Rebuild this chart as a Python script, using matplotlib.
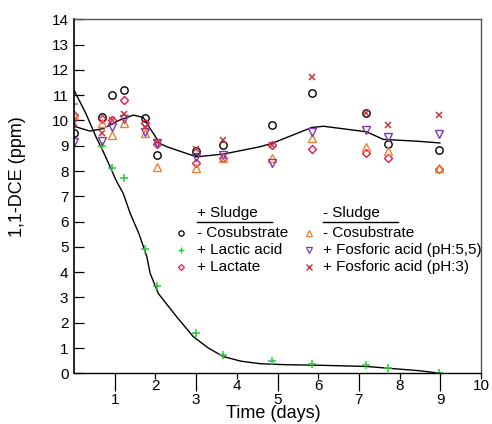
import matplotlib
matplotlib.use("Agg")
import matplotlib.pyplot as plt
from matplotlib.lines import Line2D

plt.rcParams['font.family'] = ['Liberation Sans', 'DejaVu Sans']

# sampling times (days)
t = [0, 0.7, 0.93, 1.24, 1.75, 2.03, 3.0, 3.67, 4.86, 5.84, 7.17, 7.72, 8.97]

# + Sludge
cosub_neg = [9.49, 10.14, 11.0, 11.22, 10.08, 8.63, 8.80, 9.02, 9.81, 11.09, 10.28, 9.06, 8.83]
lactic_acid = [10.64, 9.0, 8.13, 7.73, 4.91, 3.45, 1.58, 0.72, 0.49, 0.37, 0.32, 0.2, 0.02]
lactate = [10.21, 10.04, 10.0, 10.8, 9.9, 9.06, 8.3, 8.5, 9.02, 8.89, 8.72, 8.5, 8.06]

# - Sludge
nosludge_cosub_neg = [10.21, 9.91, 9.42, 9.91, 9.5, 8.14, 8.1, 8.5, 8.5, 9.29, 8.96, 8.8, 8.1]
fosforic_55 = [9.15, 9.18, 9.75, 10.04, 9.55, 9.12, 8.56, 8.63, 8.3, 9.55, 9.64, 9.33, 9.45]
fosforic_3 = [9.88, 9.49, 10.01, 10.24, 9.75, 9.15, 8.88, 9.22, 9.04, 11.7, 10.3, 9.81, 10.21]

# fitted curves
decay_x = [0, 0.29, 0.54, 0.70, 0.87, 1.03, 1.21, 1.38, 1.6, 1.79, 1.87, 2.07, 2.52, 2.93,
           3.3, 3.67, 4.1, 4.57, 5.2, 6.0, 7.2, 7.72, 8.5, 9.0]
decay_y = [11.2, 10.28, 9.35, 8.83, 8.23, 7.64, 7.11, 6.33, 5.5, 4.61, 3.96, 3.16, 2.24, 1.45,
           1.0, 0.66, 0.48, 0.38, 0.34, 0.32, 0.27, 0.2, 0.1, 0.0]
plateau_x = [0, 0.39, 0.72, 1.1, 1.46, 1.7, 1.87, 2.11, 2.28, 3.01, 3.67, 4.57, 4.86, 5.84,
             6.13, 7.19, 7.6, 8.42, 8.99]
plateau_y = [9.77, 9.58, 9.68, 10.0, 10.21, 10.12, 9.68, 9.09, 8.96, 8.56, 8.67, 8.96, 9.09,
             9.72, 9.77, 9.55, 9.25, 9.18, 9.11]

c_green = '#2fc43a'
c_lactate = '#e8174a'
c_orange = '#f08030'
c_purple = '#7a3aa8'
c_xred = '#c8343f'

fig = plt.figure(figsize=(4.92, 4.24), dpi=100)
ax = fig.add_axes([74 / 492, 1 - 373.3 / 424, 407 / 492, 354 / 424])

ax.plot(decay_x, decay_y, color='black', lw=1.0)
ax.plot(plateau_x, plateau_y, color='black', lw=1.0)

ms = 5.3
series = [
    (cosub_neg, 'o', 'black', True),
    (lactic_acid, '+', c_green, False),
    (lactate, 'D', c_lactate, True),
    (nosludge_cosub_neg, '^', c_orange, True),
    (fosforic_55, 'v', c_purple, True),
    (fosforic_3, 'x', c_xred, False),
]
for vals, m, c, hollow in series:
    size = ms * 0.72 if m == 'D' else ms
    if m == 'x':
        size = ms * 0.85
    if hollow:
        ax.plot(t, vals, ls='none', marker=m, ms=size, mfc='none', mec=c, mew=1.0)
    else:
        ax.plot(t, vals, ls='none', marker=m, ms=size, color=c, mew=1.1)

ax.set_xlim(0, 10)
ax.set_ylim(0, 14)
ax.set_yticks(range(0, 15))
ax.tick_params(axis='y', direction='in', length=7, width=0.9, labelsize=11, pad=4,
               right=False)
ax.set_xticks([1, 3, 5, 7, 9])
ax.set_xticks([2, 4, 6, 8, 10], minor=True)
ax.set_xticklabels(['1', '3', '5', '7', '9'])
ax.set_xticklabels(['2', '4', '6', '8', '10'], minor=True)
ax.tick_params(axis='x', which='major', direction='out', length=13, width=0.9,
               labelsize=11, pad=1, top=False)
ax.tick_params(axis='x', which='minor', direction='out', length=4, width=0.9,
               labelsize=11, pad=0, top=False)
for sp in ['top', 'right']:
    ax.spines[sp].set_color('#555555')
    ax.spines[sp].set_linewidth(1.0)
ax.spines['left'].set_linewidth(1.2)
ax.spines['bottom'].set_linewidth(1.0)

fig.text(18 / 492, 1 - 177 / 424, '1,1-DCE (ppm)', rotation=90, fontsize=13,
         ha='center', va='center')
fig.text(273 / 492, 1 - 414 / 424, 'Time (days)', fontsize=13, ha='center', va='center')

# legend drawn by hand (two grouped columns)
fs = 11
rows_y = [0.397, 0.347, 0.299]
col1 = [('o', 'black', True, '- Cosubstrate'),
        ('+', c_green, False, '+ Lactic acid'),
        ('D', c_lactate, True, '+ Lactate')]
col2 = [('^', c_orange, True, '- Cosubstrate'),
        ('v', c_purple, True, '+ Fosforic acid (pH:5,5)'),
        ('x', c_xred, False, '+ Fosforic acid (pH:3)')]
for mx, tx, head, ul, items in [(0.262, 0.301, '+ Sludge', (0.303, 0.486), col1),
                                 (0.577, 0.612, '- Sludge', (0.612, 0.796), col2)]:
    ax.text(tx, 0.453, head, transform=ax.transAxes, fontsize=fs, va='center', ha='left')
    ax.add_line(Line2D(list(ul), [0.428, 0.428], transform=ax.transAxes,
                       color='black', lw=1.0))
    for (m, c, hollow, label), ry in zip(items, rows_y):
        size = 3.0 if m == 'D' else 3.8
        if hollow:
            ax.plot([mx], [ry], transform=ax.transAxes, marker=m, ms=size,
                    mfc='none', mec=c, mew=0.9, clip_on=False)
        else:
            ax.plot([mx], [ry], transform=ax.transAxes, marker=m, ms=size,
                    color=c, mew=1.0, clip_on=False)
        ax.text(tx, ry, label, transform=ax.transAxes, fontsize=fs, va='center', ha='left')

fig.savefig('out.png', dpi=100)
